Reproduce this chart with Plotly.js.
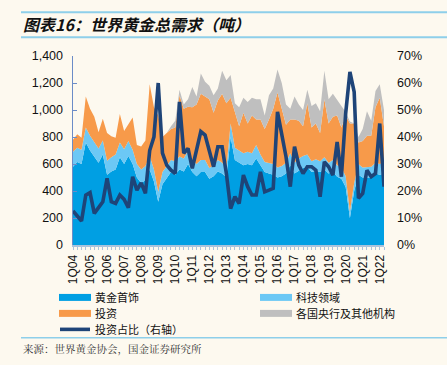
<!DOCTYPE html>
<html><head><meta charset="utf-8">
<script src="https://cdn.plot.ly/plotly-3.0.1.min.js"></script>
<style>html,body{margin:0;padding:0;background:#FDF9EF;}#c{width:447px;height:365px;}</style>
</head><body><div id="c"></div>
<script>
// Quarter index 0 = 1Q04 ... 73 = 2Q22
const tickLabels = ['1Q04','1Q05','1Q06','1Q07','1Q08','1Q09','1Q10','1Q11','1Q12','1Q13','1Q14','1Q15','1Q16','1Q17','1Q18','1Q19','1Q20','1Q21','1Q22'];
const seriesNames = ['黄金首饰','科技领域','投资','各国央行及其他机构','投资占比（右轴）'];

// 黄金首饰 (tonnes)
const jewelry = [580,615,600,760,700,650,610,670,520,545,560,650,600,660,600,500,460,480,560,470,
  320,450,500,540,520,560,545,600,540,510,540,540,490,510,545,530,500,800,630,610,
  590,600,590,640,590,540,530,520,500,510,530,590,530,550,570,580,540,550,540,560,
  530,545,505,490,430,200,400,520,500,500,500,530,520,530];
// 科技领域
const technology = [110,105,105,110,110,110,105,105,105,105,110,110,110,110,105,100,100,105,100,90,
  75,90,90,90,100,95,95,100,90,90,90,90,80,80,85,80,70,100,90,90,
  90,90,90,100,80,75,80,80,75,75,80,90,80,90,90,90,80,85,80,90,
  80,85,85,85,80,50,60,80,75,75,80,80,80,80];
// 投资
const investment = [90,100,90,230,200,190,120,160,205,155,125,210,135,130,240,140,170,190,530,460,
  565,260,240,230,250,455,370,325,390,440,490,470,510,390,440,510,480,190,270,180,
  300,210,280,190,260,245,320,410,555,415,280,250,320,280,220,380,250,265,210,430,
  290,320,370,295,450,650,440,160,195,235,230,410,490,270];
// 各国央行及其他机构
const centralBanks = [0,0,0,0,0,0,0,0,0,0,0,0,0,0,0,0,0,0,0,0,
  0,0,0,20,50,40,30,55,150,60,150,110,100,130,90,170,170,170,60,140,
  110,160,130,150,150,100,180,150,170,200,150,80,170,120,120,100,160,150,160,210,
  180,170,110,160,25,15,0,40,90,180,110,120,100,120];
// 投资占比（右轴, %）
const investShare = [12.6,10.7,8.9,18.5,19.4,11.7,13.6,16,24.7,16,15.4,18.5,16.9,13.8,25.3,20.3,23,19.1,35,40,
  60,34,29.6,27.7,26.5,53,34,35.8,28.4,35,42,40.7,35,29,36.4,36.4,26.5,13.5,17.9,15.4,
  25.9,21.6,18.5,18.5,27.1,19.7,20.3,21,49.3,41.3,32.7,21.6,36.4,29.6,26.5,29,29,27.7,17.9,30.8,
  29,25.9,38.2,25.3,48.7,64.1,56.7,17.3,19.1,27.7,25.3,26.5,45,21.6];

const xIdx = jewelry.map((_, i) => i);
const tickVals = tickLabels.map((_, k) => k * 4);

const colors = ['#009FE3', '#6CC8F5', '#F79A4A', '#BFBFBF', '#1E4478'];
const series = [jewelry, technology, investment, centralBanks];

const traces = series.map((s, k) => ({
  x: xIdx, y: s, name: seriesNames[k], type: 'scatter', mode: 'lines',
  stackgroup: 'one', line: {width: 0, color: colors[k]}, fillcolor: colors[k],
  showlegend: false, hoverinfo: 'skip'
}));
traces.push({
  x: xIdx, y: investShare, name: seriesNames[4], type: 'scatter', mode: 'lines',
  yaxis: 'y2', line: {width: 3.6, color: colors[4]}, showlegend: false
});

const font = '"Liberation Sans", Arial, sans-serif';
const cjk = '"Noto Sans CJK SC", sans-serif';

const L = 73, R = 384, T = 55.7, B = 245;
const px = x => (x - L) / (R - L);
const py = y => (B - y) / (B - T);
const sh = [];
sh.push({type:'line', xref:'paper', yref:'paper', x0:px(21), x1:px(447), y0:py(12), y1:py(12), line:{color:'#8ECFEA', width:2}});
sh.push({type:'line', xref:'paper', yref:'paper', x0:px(21), x1:px(447), y0:py(37), y1:py(37), line:{color:'#8ECFEA', width:2}});
sh.push({type:'line', xref:'paper', yref:'paper', x0:px(21), x1:px(447), y0:py(338), y1:py(338), line:{color:'#8ECFEA', width:1.5}});
const legendItems = [
  {x0:59, y:297.5, c:colors[0], t:seriesNames[0]},
  {x0:260, y:297.5, c:colors[1], t:seriesNames[1]},
  {x0:59, y:313.5, c:colors[2], t:seriesNames[2]},
  {x0:260, y:313.5, c:colors[3], t:seriesNames[3]},
];
const ann = [];
const legFont = {family:cjk, size:11, color:'#111'};
legendItems.forEach(it => {
  sh.push({type:'rect', xref:'paper', yref:'paper', x0:px(it.x0), x1:px(it.x0+32), y0:py(it.y+3.5), y1:py(it.y-3.5), fillcolor:it.c, line:{width:0}});
  ann.push({xref:'paper', yref:'paper', x:px(it.x0+34), y:py(it.y), xanchor:'left', yanchor:'middle', text:it.t, showarrow:false, font:legFont});
});
sh.push({type:'line', xref:'paper', yref:'paper', x0:px(60), x1:px(90), y0:py(329.5), y1:py(329.5), line:{color:colors[4], width:3.6}});
ann.push({xref:'paper', yref:'paper', x:px(93), y:py(329.5), xanchor:'left', yanchor:'middle', text:seriesNames[4], showarrow:false, font:legFont});
ann.push({xref:'paper', yref:'paper', x:px(21), y:py(24), xanchor:'left', yanchor:'middle', text:'<b><i>图表16：世界黄金总需求（吨）</i></b>', showarrow:false, font:{family:cjk, size:16, color:'#111'}});
ann.push({xref:'paper', yref:'paper', x:px(21), y:py(349), xanchor:'left', yanchor:'middle', text:'来源：世界黄金协会，国金证券研究所', showarrow:false, font:{family:'"Noto Serif CJK SC","Noto Sans CJK SC", serif', size:10.5, color:'#333'}});

const layout = {
  width: 447, height: 365,
  margin: {l: L, r: 447 - R, t: T, b: 365 - B, pad: 0},
  paper_bgcolor: '#FDF9EF', plot_bgcolor: '#FDF9EF',
  showlegend: false,
  xaxis: {
    range: [0, 73], tickvals: tickVals, ticktext: tickLabels, tickangle: -90,
    showgrid: false, zeroline: false, showline: true, linecolor: '#A9C3DC', linewidth: 2,
    ticks: 'outside', ticklen: 3, tickcolor: '#A9C3DC',
    minor: {ticks: 'outside', dtick: 1, tick0: 0, ticklen: 3, tickcolor: '#A9C3DC', showgrid: false},
    tickfont: {family: font, size: 12, color: '#111'}
  },
  yaxis: {
    range: [0, 1400], dtick: 200, tickformat: ',d',
    showgrid: false, zeroline: false, showline: true, linecolor: '#6B8CC7', linewidth: 1.5,
    ticks: 'inside', ticklen: 4, tickcolor: '#6B8CC7', ticklabelstandoff: 6,
    tickfont: {family: font, size: 12.5, color: '#111'}
  },
  yaxis2: {
    range: [0, 70], dtick: 10, ticksuffix: '%', overlaying: 'y', side: 'right',
    showgrid: false, zeroline: false, showline: false, ticks: '', ticklabelstandoff: 12,
    tickfont: {family: font, size: 12.5, color: '#111'}
  },
  shapes: sh, annotations: ann
};
Plotly.newPlot('c', traces, layout, {staticPlot: true});
</script></body></html>
